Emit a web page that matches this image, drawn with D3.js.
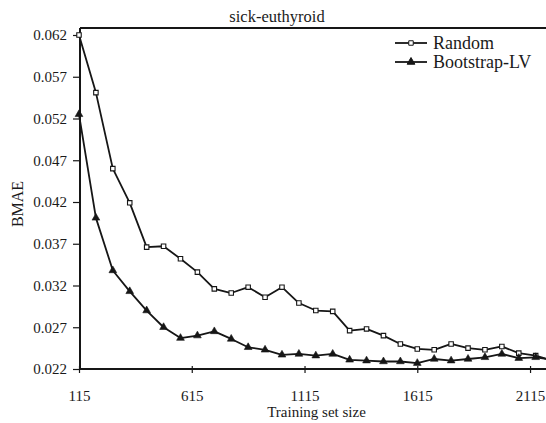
<!DOCTYPE html>
<html>
<head>
<meta charset="utf-8">
<script src="https://cdn.jsdelivr.net/npm/d3@7"></script>
<style>
  html, body { margin: 0; padding: 0; background: #fff; }
  svg { display: block; }
  text { font-family: "Liberation Serif", "DejaVu Serif", serif; fill: #1a1a1a; }
</style>
</head>
<body>
<svg id="chart" width="546" height="423"></svg>
<script>
// ---- data ----
const trainingSizes = [115, 190, 265, 340, 415, 490, 565, 640, 715, 790, 865, 940, 1015, 1090, 1165,
  1240, 1315, 1390, 1465, 1540, 1615, 1690, 1765, 1840, 1915, 1990, 2065, 2140, 2215];
const randomBMAE = [0.0620, 0.0551, 0.0460, 0.0419, 0.0366, 0.0367, 0.0352, 0.0336, 0.0316, 0.0311,
  0.0318, 0.0306, 0.0318, 0.0299, 0.0290, 0.0289, 0.0266, 0.0268, 0.0260, 0.0250, 0.0244, 0.0243,
  0.0250, 0.0245, 0.0243, 0.0247, 0.0239, 0.0236, 0.0230];
const bootstrapBMAE = [0.0525, 0.0401, 0.0338, 0.0313, 0.0290, 0.0270, 0.0257, 0.0260, 0.0265, 0.0256,
  0.0246, 0.0243, 0.0237, 0.0238, 0.0236, 0.0238, 0.0231, 0.0230, 0.0229, 0.0229, 0.0227, 0.0232,
  0.0230, 0.0232, 0.0234, 0.0238, 0.0233, 0.0234, 0.0231];
const xTicks = [115, 615, 1115, 1615, 2115];
const yTicks = [0.022, 0.027, 0.032, 0.037, 0.042, 0.047, 0.052, 0.057, 0.062];
const seriesNames = ["Random", "Bootstrap-LV"];
const titleText = "sick-euthyroid";
const xLabel = "Training set size";
const yLabel = "BMAE";

// ---- layout ----
const svg = d3.select("#chart");
const mLeft = 80, mRight = 552.6, mTop = 28, mBottom = 369;
const x = d3.scaleLinear().domain([115, 2215]).range([mLeft - 1, mRight]);
const y = d3.scaleLinear().domain([0.022, 0.062]).range([mBottom, 35]);
const ink = "#161616";

// frame top line
svg.append("line").attr("x1", mLeft).attr("x2", 546).attr("y1", mTop).attr("y2", mTop)
  .attr("stroke", ink).attr("stroke-width", 2);

// y axis
const yAxis = svg.append("g").attr("transform", `translate(${mLeft},0)`)
  .call(d3.axisLeft(y).tickValues(yTicks).tickFormat(d3.format(".3f")).tickSize(7).tickPadding(6));
yAxis.select(".domain").remove();
yAxis.selectAll(".tick line").attr("stroke", ink).attr("stroke-width", 1.2);
yAxis.selectAll("text").attr("font-size", 15)
  .style("font-family", '"Liberation Serif", serif').attr("fill", ink);
svg.append("line").attr("x1", mLeft).attr("x2", mLeft).attr("y1", mTop).attr("y2", mBottom + 1)
  .attr("stroke", ink).attr("stroke-width", 2);

// x axis
const xAxis = svg.append("g").attr("transform", `translate(0,${mBottom})`)
  .call(d3.axisBottom(x).tickValues(xTicks).tickFormat(d3.format("d")).tickSize(4).tickPadding(17));
xAxis.select(".domain").remove();
xAxis.selectAll(".tick line").attr("stroke", ink).attr("stroke-width", 1.2).attr("y1", -3);
xAxis.selectAll("text").attr("font-size", 15)
  .style("font-family", '"Liberation Serif", serif').attr("fill", ink);
svg.append("line").attr("x1", mLeft - 1).attr("x2", 546).attr("y1", mBottom).attr("y2", mBottom)
  .attr("stroke", ink).attr("stroke-width", 2);

// title & labels
svg.append("text").attr("x", 277).attr("y", 22).attr("text-anchor", "middle")
  .attr("font-size", 16.5).text(titleText);
svg.append("text").attr("x", 316.5).attr("y", 417).attr("text-anchor", "middle")
  .attr("font-size", 15).text(xLabel);
svg.append("text").attr("transform", "translate(23,204) rotate(-90)").attr("text-anchor", "middle")
  .attr("font-size", 16).text(yLabel);

// series
const line = d3.line().x((d, i) => x(trainingSizes[i])).y(d => y(d));

function drawSeries(values, marker) {
  const g = svg.append("g");
  g.append("path").datum(values).attr("d", line).attr("fill", "none")
    .attr("stroke", ink).attr("stroke-width", 1.8).attr("stroke-linejoin", "round");
  const sym = marker === "square" ? d3.symbolSquare : d3.symbolTriangle;
  g.selectAll("path.m").data(values).join("path").attr("class", "m")
    .attr("transform", (d, i) => `translate(${x(trainingSizes[i])},${y(d)})`)
    .attr("d", d3.symbol().type(sym).size(marker === "square" ? 20 : 26))
    .attr("fill", marker === "square" ? "#fff" : ink)
    .attr("stroke", ink).attr("stroke-width", marker === "square" ? 1.1 : 0.6);
}
drawSeries(randomBMAE, "square");
drawSeries(bootstrapBMAE, "triangle");

// legend
const legend = svg.append("g");
const legendRows = [{ name: seriesNames[0], m: "square", y: 43 }, { name: seriesNames[1], m: "triangle", y: 62 }];
legendRows.forEach(r => {
  legend.append("line").attr("x1", 395).attr("x2", 427).attr("y1", r.y).attr("y2", r.y)
    .attr("stroke", ink).attr("stroke-width", 1.8);
  legend.append("path").attr("transform", `translate(411,${r.y})`)
    .attr("d", d3.symbol().type(r.m === "square" ? d3.symbolSquare : d3.symbolTriangle).size(r.m === "square" ? 20 : 26))
    .attr("fill", r.m === "square" ? "#fff" : ink).attr("stroke", ink).attr("stroke-width", 1);
  legend.append("text").attr("x", 433).attr("y", r.y + 6).attr("font-size", 18).text(r.name);
});
</script>
</body>
</html>
